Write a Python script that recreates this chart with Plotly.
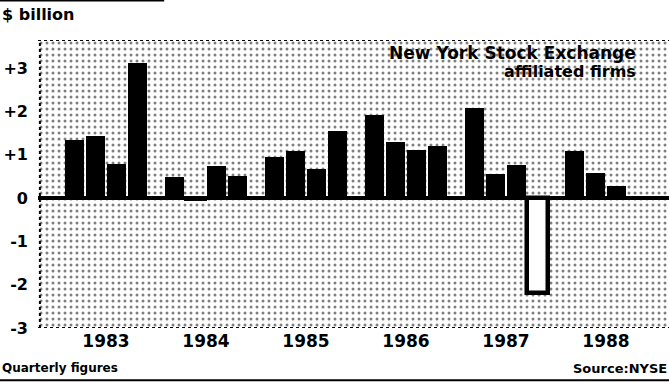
import plotly.graph_objects as go

# ---- data ----
years = [1983, 1984, 1985, 1986, 1987, 1988]
quarters = [1, 2, 3, 4]
values_by_year = {
    1983: [1.34, 1.44, 0.79, 3.11],
    1984: [0.49, -0.05, 0.73, 0.50],
    1985: [0.96, 1.09, 0.68, 1.54],
    1986: [1.92, 1.30, 1.11, 1.21],
    1987: [2.08, 0.55, 0.77, -2.20],
    1988: [1.09, 0.58, 0.29],
}
ytick_vals = [-3, -2, -1, 0, 1, 2, 3]
ytick_text = ["-3", "-2", "-1", "0", "+1", "+2", "+3"]
year_labels = [str(y) for y in years]

# ---- derived positions (quarters spread around the year centre) ----
xs, ys = [], []
for y in years:
    for q, v in zip(quarters, values_by_year[y]):
        xs.append(y + (q - 2.5) * 0.21)
        ys.append(v)

colors = ["white" if v < 0 else "black" for v in ys]
widths = [0.215 if v < 0 else 0.19 for v in ys]
lwidths = [4.5 if v < -0.5 else (2 if v < 0 else 0) for v in ys]

x0, x1 = 1982.32, 1988.63
y0, y1 = -3, 3.65

fig = go.Figure()
# stippled background
fig.add_trace(go.Bar(
    x=[(x0 + x1) / 2], y=[y1 - y0], base=[y0], width=[x1 - x0],
    marker=dict(color="white", line=dict(width=0),
                pattern=dict(shape=".", fgcolor="black", bgcolor="white",
                             size=6, solidity=0.2)),
    hoverinfo="skip", showlegend=False,
))
fig.add_trace(go.Bar(
    x=xs, y=ys, width=widths,
    marker=dict(color=colors, line=dict(color="black", width=lwidths)),
    showlegend=False,
))

FAM = "DejaVu Sans"
font_b = dict(family=FAM, color="black", weight="bold")

fig.update_layout(
    width=669, height=382,
    margin=dict(l=38, r=0, t=40, b=54),
    paper_bgcolor="white", plot_bgcolor="white",
    barmode="overlay", bargap=0,
    xaxis=dict(range=[x0, x1], tickvals=years, ticktext=year_labels,
               showgrid=False, zeroline=False, showline=False, ticks="",
               tickfont=dict(size=17, **font_b), ticklabelstandoff=1),
    yaxis=dict(range=[y0, y1], tickvals=ytick_vals, ticktext=ytick_text,
               showgrid=False, zeroline=False, showline=False, ticks="",
               tickfont=dict(size=16, **font_b), ticklabelstandoff=9),
    annotations=[
        dict(text="$ billion", xref="paper", yref="paper", x=-0.0602, y=1.087,
             xanchor="left", yanchor="middle", showarrow=False,
             font=dict(size=16, **font_b)),
        dict(text="New York Stock Exchange", xref="paper", yref="paper",
             x=0.951, y=0.955, xanchor="right", yanchor="middle",
             showarrow=False, font=dict(size=17, **font_b)),
        dict(text="affiliated firms", xref="paper", yref="paper",
             x=0.951, y=0.892, xanchor="right", yanchor="middle",
             showarrow=False, font=dict(size=16, **font_b)),
        dict(text="Quarterly figures", xref="paper", yref="paper",
             x=-0.0602, y=-0.139, xanchor="left", yanchor="middle",
             showarrow=False, font=dict(size=12, **font_b)),
        dict(text="Source:NYSE", xref="paper", yref="paper",
             x=1.0, y=-0.139, xanchor="right", yanchor="middle",
             showarrow=False, font=dict(size=13, **font_b)),
    ],
    shapes=[
        # zero line above the bars
        dict(type="line", xref="paper", yref="y", x0=0, x1=1, y0=0, y1=0,
             line=dict(color="black", width=4), layer="above"),
        # dotted frame edges
        dict(type="line", xref="paper", yref="y", x0=0.003, x1=0.003,
             y0=y0, y1=y1, line=dict(color="black", width=2, dash="dot")),
        dict(type="line", xref="paper", yref="y", x0=0, x1=1,
             y0=y0, y1=y0, line=dict(color="black", width=2, dash="dot")),
        dict(type="line", xref="paper", yref="y", x0=0, x1=1,
             y0=y1, y1=y1, line=dict(color="black", width=2, dash="dot")),
        # rules at top and bottom of the graphic
        dict(type="line", xref="paper", yref="paper", x0=-0.0602, x1=0.2,
             y0=1.137, y1=1.137, line=dict(color="black", width=2)),
        dict(type="line", xref="paper", yref="paper", x0=-0.0602, x1=1.0,
             y0=-0.181, y1=-0.181, line=dict(color="black", width=2)),
    ],
)

fig.write_html("out.html", config={"displayModeBar": False},
               post_script="document.body.style.margin='0px';")
